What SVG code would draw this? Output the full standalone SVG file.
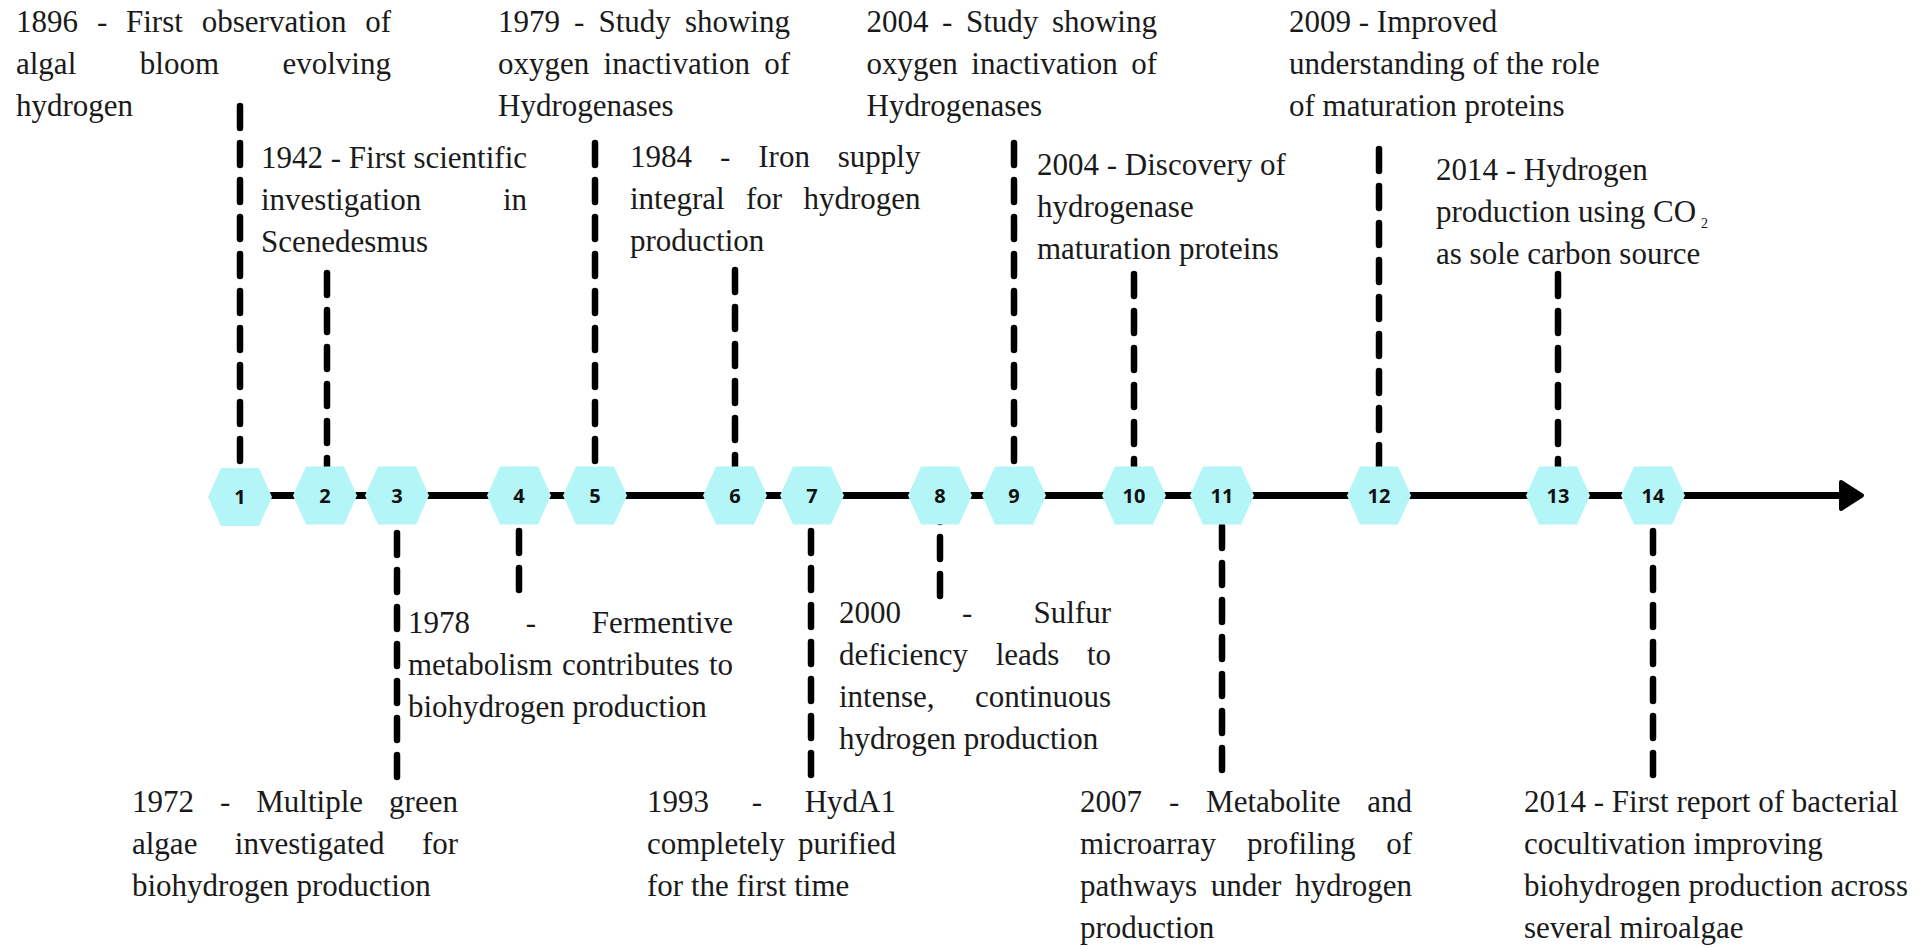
<svg xmlns="http://www.w3.org/2000/svg" xmlns:xlink="http://www.w3.org/1999/xlink" width="1929" height="948" viewBox="0 0 1929 948">
<style>
.t{font-family:"Liberation Serif","Times New Roman",serif;font-size:31px;fill:#1a1a1a}
.hex{fill:#b4f5f7}
.num{font-family:"Open Sans","Liberation Sans",sans-serif;font-weight:700;font-size:20px;fill:#111;text-anchor:middle}
.dash{stroke:#000;stroke-width:6.5;stroke-dasharray:22 15;stroke-linecap:round;fill:none}
.sub{font-size:14px}
</style>
<defs>
<polygon id="hx" points="-32,0 -19,-29 19,-29 32,0 19,29 -19,29"/>
</defs>
<rect width="1929" height="948" fill="#fff"/>
<g id="axis">
<line x1="240" y1="495.5" x2="1846" y2="495.5" stroke="#000" stroke-width="7"/>
<polygon points="1841,482 1862,495.5 1841,509" fill="#000" stroke="#000" stroke-width="4" stroke-linejoin="round"/>
</g>
<g id="connectors">
<path class="dash" d="M240 106V495"/>
<path class="dash" d="M327 273V495"/>
<path class="dash" d="M397 777V495"/>
<path class="dash" d="M519 590V495"/>
<path class="dash" d="M595 143V495"/>
<path class="dash" d="M735 270V495"/>
<path class="dash" d="M811 775V495"/>
<path class="dash" d="M940 596V495"/>
<path class="dash" d="M1014 143V495"/>
<path class="dash" d="M1134 274V495"/>
<path class="dash" d="M1222 770V495"/>
<path class="dash" d="M1379 149V495"/>
<path class="dash" d="M1558 274V495"/>
<path class="dash" d="M1653 775V495"/>
</g>
<g id="event1">
<use xlink:href="#hx" href="#hx" class="hex" x="240" y="497"/>
<text class="num" x="240" y="504">1</text>
<text class="t" y="32"><tspan x="16">1896</tspan><tspan x="96.9">-</tspan><tspan x="126">First</tspan><tspan x="201.8">observation</tspan><tspan x="365.2">of</tspan></text>
<text class="t" y="74"><tspan x="16">algal</tspan><tspan x="139.8">bloom</tspan><tspan x="282.5">evolving</tspan></text>
<text class="t" x="16" y="116">hydrogen</text>
</g>
<g id="event2">
<use xlink:href="#hx" href="#hx" class="hex" x="325" y="495.5"/>
<text class="num" x="325" y="503">2</text>
<text class="t" y="168"><tspan x="261">1942</tspan><tspan x="330.7">-</tspan><tspan x="348.8">First</tspan><tspan x="413.4">scientific</tspan></text>
<text class="t" y="210"><tspan x="261">investigation</tspan><tspan x="502.9">in</tspan></text>
<text class="t" x="261" y="252">Scenedesmus</text>
</g>
<g id="event3">
<use xlink:href="#hx" href="#hx" class="hex" x="397" y="495.5"/>
<text class="num" x="397" y="503">3</text>
<text class="t" y="812"><tspan x="132">1972</tspan><tspan x="220">-</tspan><tspan x="256.3">Multiple</tspan><tspan x="389.1">green</tspan></text>
<text class="t" y="854"><tspan x="132">algae</tspan><tspan x="234.8">investigated</tspan><tspan x="421.9">for</tspan></text>
<text class="t" x="132" y="896">biohydrogen production</text>
</g>
<g id="event4">
<use xlink:href="#hx" href="#hx" class="hex" x="519" y="495.5"/>
<text class="num" x="519" y="503">4</text>
<text class="t" y="633"><tspan x="408">1978</tspan><tspan x="525.8">-</tspan><tspan x="591.8">Fermentive</tspan></text>
<text class="t" y="675"><tspan x="408">metabolism</tspan><tspan x="561.9">contributes</tspan><tspan x="708.9">to</tspan></text>
<text class="t" x="408" y="717">biohydrogen production</text>
</g>
<g id="event5">
<use xlink:href="#hx" href="#hx" class="hex" x="595" y="495.5"/>
<text class="num" x="595" y="503">5</text>
<text class="t" y="32"><tspan x="498">1979</tspan><tspan x="574.1">-</tspan><tspan x="598.5">Study</tspan><tspan x="684.9">showing</tspan></text>
<text class="t" y="74"><tspan x="498">oxygen</tspan><tspan x="603.6">inactivation</tspan><tspan x="764.2">of</tspan></text>
<text class="t" x="498" y="116">Hydrogenases</text>
</g>
<g id="event6">
<use xlink:href="#hx" href="#hx" class="hex" x="735" y="495.5"/>
<text class="num" x="735" y="503">6</text>
<text class="t" y="167"><tspan x="630">1984</tspan><tspan x="720">-</tspan><tspan x="758.3">Iron</tspan><tspan x="837.8">supply</tspan></text>
<text class="t" y="209"><tspan x="630">integral</tspan><tspan x="746">for</tspan><tspan x="803.4">hydrogen</tspan></text>
<text class="t" x="630" y="251">production</text>
</g>
<g id="event7">
<use xlink:href="#hx" href="#hx" class="hex" x="812" y="495.5"/>
<text class="num" x="812" y="503">7</text>
<text class="t" y="812"><tspan x="647">1993</tspan><tspan x="751.7">-</tspan><tspan x="804.7">HydA1</tspan></text>
<text class="t" y="854"><tspan x="647">completely</tspan><tspan x="797.9">purified</tspan></text>
<text class="t" x="647" y="896">for the first time</text>
</g>
<g id="event8">
<use xlink:href="#hx" href="#hx" class="hex" x="940" y="495.5"/>
<text class="num" x="940" y="503">8</text>
<text class="t" y="623"><tspan x="839">2000</tspan><tspan x="962.1">-</tspan><tspan x="1033.5">Sulfur</tspan></text>
<text class="t" y="665"><tspan x="839">deficiency</tspan><tspan x="995.7">leads</tspan><tspan x="1086.9">to</tspan></text>
<text class="t" y="707"><tspan x="839">intense,</tspan><tspan x="974.9">continuous</tspan></text>
<text class="t" x="839" y="749">hydrogen production</text>
</g>
<g id="event9">
<use xlink:href="#hx" href="#hx" class="hex" x="1014" y="495.5"/>
<text class="num" x="1014" y="503">9</text>
<text class="t" y="32"><tspan x="866.5">2004</tspan><tspan x="942.1">-</tspan><tspan x="966">Study</tspan><tspan x="1051.9">showing</tspan></text>
<text class="t" y="74"><tspan x="866.5">oxygen</tspan><tspan x="971.3">inactivation</tspan><tspan x="1131.2">of</tspan></text>
<text class="t" x="866.5" y="116">Hydrogenases</text>
</g>
<g id="event10">
<use xlink:href="#hx" href="#hx" class="hex" x="1134" y="495.5"/>
<text class="num" x="1134" y="503">10</text>
<text class="t" x="1037" y="175">2004 - Discovery of</text>
<text class="t" x="1037" y="217">hydrogenase</text>
<text class="t" x="1037" y="259">maturation proteins</text>
</g>
<g id="event11">
<use xlink:href="#hx" href="#hx" class="hex" x="1222" y="495.5"/>
<text class="num" x="1222" y="503">11</text>
<text class="t" y="812"><tspan x="1080">2007</tspan><tspan x="1168.9">-</tspan><tspan x="1206.1">Metabolite</tspan><tspan x="1367.2">and</tspan></text>
<text class="t" y="854"><tspan x="1080">microarray</tspan><tspan x="1246.9">profiling</tspan><tspan x="1386.2">of</tspan></text>
<text class="t" y="896"><tspan x="1080">pathways</tspan><tspan x="1210.7">under</tspan><tspan x="1294.9">hydrogen</tspan></text>
<text class="t" x="1080" y="938">production</text>
</g>
<g id="event12">
<use xlink:href="#hx" href="#hx" class="hex" x="1379" y="495.5"/>
<text class="num" x="1379" y="503">12</text>
<text class="t" x="1289" y="32">2009 - Improved</text>
<text class="t" x="1289" y="74">understanding of the role</text>
<text class="t" x="1289" y="116">of maturation proteins</text>
</g>
<g id="event13">
<use xlink:href="#hx" href="#hx" class="hex" x="1558" y="495.5"/>
<text class="num" x="1558" y="503">13</text>
<text class="t" x="1436" y="180">2014 - Hydrogen</text>
<text class="t" y="222"><tspan x="1436">production using CO</tspan><tspan class="sub" x="1701" y="228">2</tspan></text>
<text class="t" x="1436" y="264">as sole carbon source</text>
</g>
<g id="event14">
<use xlink:href="#hx" href="#hx" class="hex" x="1653" y="495.5"/>
<text class="num" x="1653" y="503">14</text>
<text class="t" x="1524" y="812">2014 - First report of bacterial</text>
<text class="t" x="1524" y="854">cocultivation improving</text>
<text class="t" x="1524" y="896">biohydrogen production across</text>
<text class="t" x="1524" y="938">several miroalgae</text>
</g>
</svg>
